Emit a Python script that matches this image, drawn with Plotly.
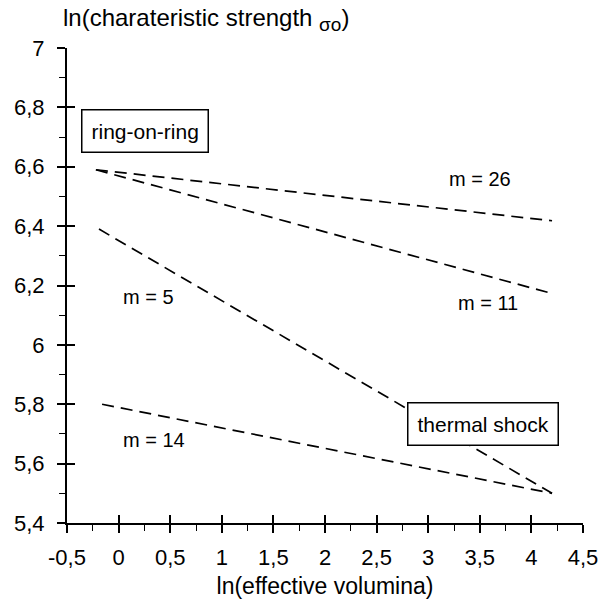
import plotly.graph_objects as go

# ---- data ----
series_names = ["m = 26", "m = 11", "m = 5", "m = 14"]
x_start = [-0.22, -0.22, -0.19, -0.16]
x_end = [4.2, 4.2, 4.2, 4.2]
y_start = [6.59, 6.59, 6.39, 5.80]
y_end = [6.418, 6.173, 5.50, 5.50]

label_x = [3.5, 3.58, 0.29, 0.34]
label_y = [6.56, 6.14, 6.16, 5.68]

x_tickvals = [-0.5, 0, 0.5, 1, 1.5, 2, 2.5, 3, 3.5, 4, 4.5]
x_ticktext = ["-0,5", "0", "0,5", "1", "1,5", "2", "2,5", "3", "3,5", "4", "4,5"]
y_tickvals = [5.4, 5.6, 5.8, 6.0, 6.2, 6.4, 6.6, 6.8, 7.0]
y_ticktext = ["5,4", "5,6", "5,8", "6", "6,2", "6,4", "6,6", "6,8", "7"]

box_labels = ["ring-on-ring", "thermal shock"]
box_x = [0.255, 3.53]
box_y = [6.72, 5.733]

FONT = "Liberation Sans, Arial, sans-serif"

fig = go.Figure()
for i, name in enumerate(series_names):
    fig.add_trace(go.Scatter(
        x=[x_start[i], x_end[i]], y=[y_start[i], y_end[i]],
        mode="lines", name=name, showlegend=False,
        line=dict(color="black", width=1.7, dash="12px,7px"),
        hoverinfo="skip"))

# invisible trace for overlay axes (inside half of the crossing ticks)
fig.add_trace(go.Scatter(x=[None], y=[None], xaxis="x2", yaxis="y2",
                         showlegend=False, hoverinfo="skip"))

for i, name in enumerate(series_names):
    fig.add_annotation(x=label_x[i], y=label_y[i], text=name, showarrow=False,
                       font=dict(family=FONT, size=20, color="black"))

for i, t in enumerate(box_labels):
    fig.add_annotation(x=box_x[i], y=box_y[i], text=t, showarrow=False,
                       font=dict(family=FONT, size=21, color="black"),
                       bordercolor="black", borderwidth=1.5, borderpad=9,
                       bgcolor="white")

fig.add_annotation(xref="paper", yref="paper", x=-0.012, y=1.06,
                   xanchor="left", yanchor="middle", showarrow=False,
                   text="ln(charateristic strength <sub><span style='font-size:19px'>σo</span></sub>)",
                   font=dict(family=FONT, size=24, color="black"))

axis_common = dict(showgrid=False, zeroline=False, color="black",
                   tickfont=dict(family=FONT, size=22, color="black"))

fig.update_layout(
    width=613, height=609,
    margin=dict(l=67, r=30, t=48, b=86),
    paper_bgcolor="white", plot_bgcolor="white",
    font=dict(family=FONT, color="black"),
    xaxis=dict(range=[-0.5, 4.5], tickmode="array", tickvals=x_tickvals,
               ticktext=x_ticktext, ticks="outside", ticklen=8, tickwidth=1.5,
               tickcolor="black", showline=True, linecolor="black", linewidth=2,
               minor=dict(dtick=0.25, tick0=-0.5, ticks="outside", ticklen=6,
                          tickwidth=1.2, tickcolor="black"),
               ticklabelstandoff=6,
               title=dict(text="ln(effective volumina)", standoff=8,
                          font=dict(family=FONT, size=23, color="black")),
               **axis_common),
    yaxis=dict(range=[5.4, 7.0], tickmode="array", tickvals=y_tickvals,
               ticktext=y_ticktext, ticks="outside", ticklen=8, tickwidth=1.5,
               tickcolor="black", showline=True, linecolor="black", linewidth=2,
               minor=dict(dtick=0.1, tick0=5.4, ticks="outside", ticklen=6,
                          tickwidth=1.2, tickcolor="black"),
               ticklabelstandoff=8,
               **axis_common),
    xaxis2=dict(range=[-0.5, 4.5], overlaying="x", anchor="y", side="bottom",
                tickmode="array", tickvals=x_tickvals, ticks="inside", ticklen=8,
                tickwidth=1.5, tickcolor="black", showticklabels=False,
                showline=False, showgrid=False, zeroline=False),
    yaxis2=dict(range=[5.4, 7.0], overlaying="y", anchor="x", side="left",
                tickmode="array", tickvals=y_tickvals, ticks="inside", ticklen=8,
                tickwidth=1.5, tickcolor="black", showticklabels=False,
                showline=False, showgrid=False, zeroline=False),
)

fig.write_html("out.html")
